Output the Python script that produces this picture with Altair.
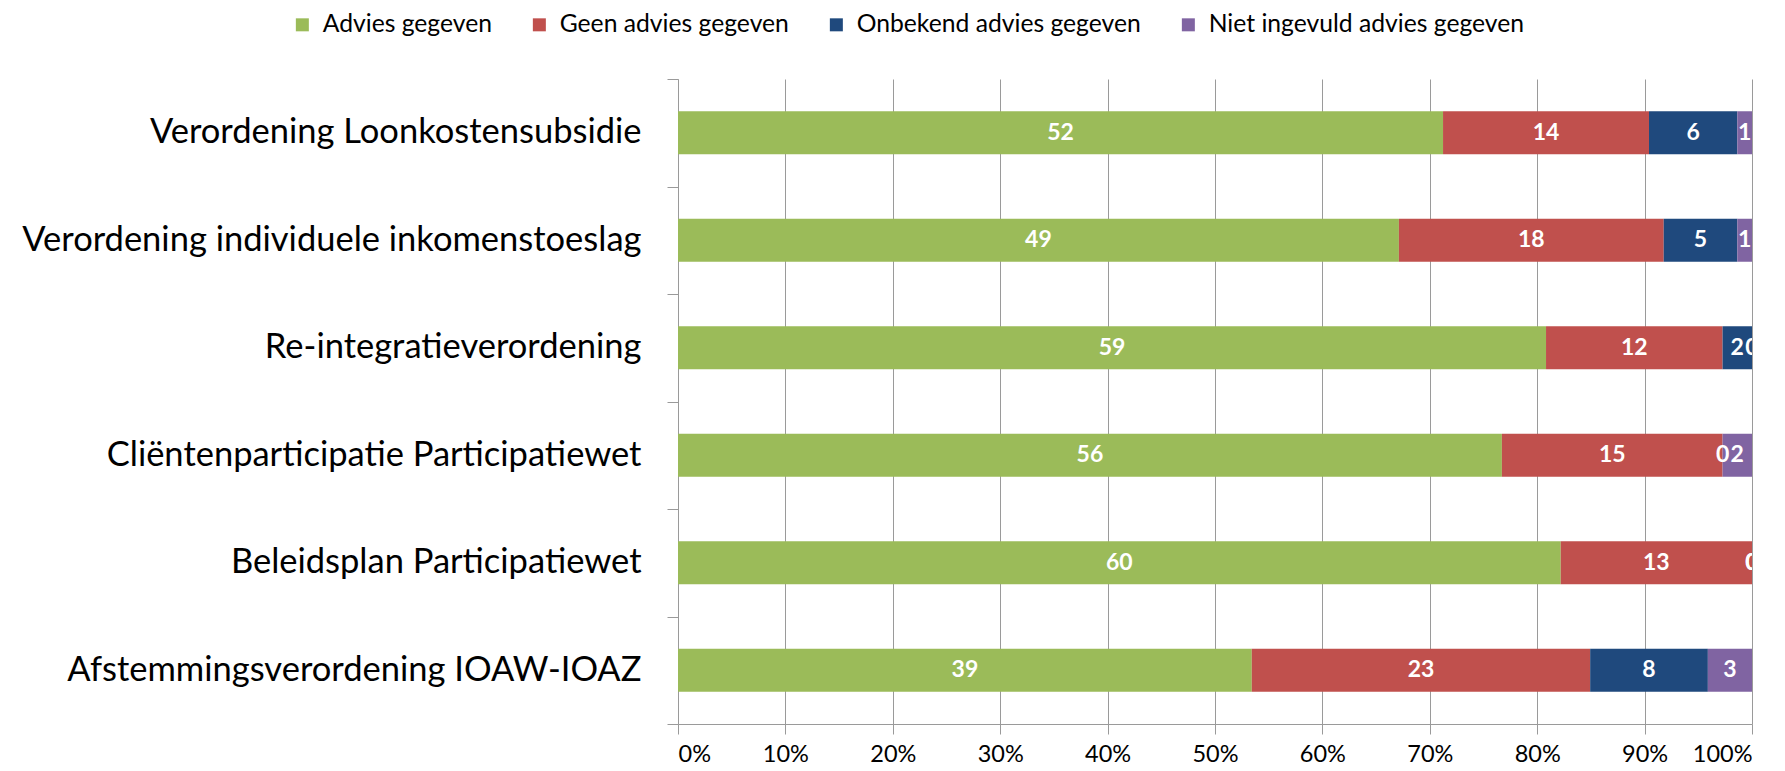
import altair as alt
import pandas as pd

categories = [
    "Verordening Loonkostensubsidie",
    "Verordening individuele inkomenstoeslag",
    "Re-integratieverordening",
    "Cliëntenparticipatie Participatiewet",
    "Beleidsplan Participatiewet",
    "Afstemmingsverordening IOAW-IOAZ",
]
series = [
    "Advies gegeven",
    "Geen advies gegeven",
    "Onbekend advies gegeven",
    "Niet ingevuld advies gegeven",
]
colors = ["#9BBB59", "#C0504D", "#1F497D", "#8064A2"]

advies = [52, 49, 59, 56, 60, 39]
geen = [14, 18, 12, 15, 13, 23]
onbekend = [6, 5, 2, 0, 0, 8]
niet_ingevuld = [1, 1, 0, 2, 0, 3]

values = [advies, geen, onbekend, niet_ingevuld]
rows = []
for si, s in enumerate(series):
    for ci, c in enumerate(categories):
        rows.append({"category": c, "series": s, "order": si, "value": values[si][ci]})
df = pd.DataFrame(rows)

FONT = "Lato"

base = alt.Chart(df).transform_stack(
    stack="value",
    groupby=["category"],
    as_=["x0", "x1"],
    offset="normalize",
    sort=[alt.SortField("order", order="ascending")],
).transform_calculate(mid="(datum.x0 + datum.x1) / 2")

y_enc = alt.Y(
    "category:N",
    sort=categories,
    title=None,
    scale=alt.Scale(paddingInner=0, paddingOuter=0),
    axis=alt.Axis(
        labelFont=FONT,
        labelFontSize=34.5,
        labelColor="#000000",
        labelPadding=26,
        tickBand="extent",
        tickSize=11,
        tickColor="#9a9a9a",
        domainColor="#9a9a9a",
        grid=False,
        labelLimit=800,
    ),
)

bars = base.mark_bar(height=alt.RelativeBandSize(0.4)).encode(
    y=y_enc,
    x=alt.X(
        "x0:Q",
        title=None,
        scale=alt.Scale(domain=[0, 1], nice=False),
        axis=alt.Axis(
            format="%",
            values=[i / 10 for i in range(11)],
            labelFont=FONT,
            labelFontSize=23.5,
            labelColor="#000000",
            labelPadding=8,
            tickSize=10,
            tickColor="#9a9a9a",
            domainColor="#9a9a9a",
            gridColor="#9a9a9a",
            grid=True,
        ),
    ),
    x2="x1:Q",
    color=alt.Color(
        "series:N",
        sort=series,
        scale=alt.Scale(domain=series, range=colors),
        legend=alt.Legend(
            title=None,
            orient="none",
            direction="horizontal",
            legendX=-388,
            legendY=-67,
            symbolType="square",
            symbolSize=169,
            symbolStrokeWidth=0,
            labelFont=FONT,
            labelFontSize=24.7,
            labelColor="#000000",
            labelOffset=8,
            columnPadding=35,
            labelLimit=600,
        ),
    ),
)

labels = base.mark_text(
    font=FONT, fontSize=23, fontWeight="bold", color="white", clip=True, baseline="middle"
).encode(
    y=alt.Y("category:N", sort=categories),
    x=alt.X("mid:Q"),
    text=alt.Text("value:Q"),
    order=alt.Order("order:Q"),
)

chart = (
    alt.layer(bars, labels)
    .properties(
        width=1074,
        height=645,
        autosize=alt.AutoSizeParams(type="none"),
        padding={"left": 670, "top": 71, "right": 20, "bottom": 50},
    )
    .configure_view(stroke=None)
    .configure_axis(gridWidth=1, domainWidth=1, tickWidth=1)
)

chart.save("out.html", embed_options={"renderer": "svg", "actions": False})
